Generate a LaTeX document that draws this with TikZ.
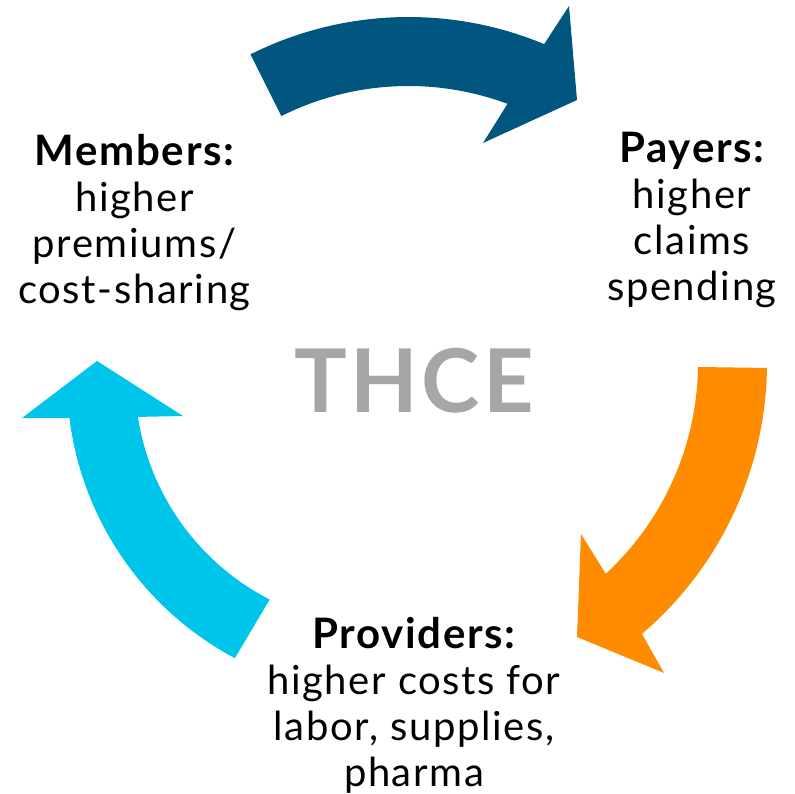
\documentclass[tikz,border=0pt]{standalone}
\usepackage{fontspec}
\setmainfont{Lato}[LetterSpace=4]
\usetikzlibrary{calc}
\definecolor{payblue}{HTML}{00567F}
\definecolor{provorange}{HTML}{FF8C00}
\definecolor{membcyan}{HTML}{00C5EA}
\definecolor{thcegray}{HTML}{A6A6A6}
\newcommand{\hd}[1]{{\fontsize{42}{46}\selectfont\bfseries #1}}

\begin{document}
\begin{tikzpicture}[x=1pt,y=1pt,
  lbl/.style={align=center, inner sep=0pt, anchor=north, font=\fontsize{40}{46}\selectfont}]
\useasboundingbox (0,0) rectangle (795,794);
% centres of the three curved arrows
\coordinate (ct) at (408.5,424);
\coordinate (co) at (411,431);
\coordinate (cc) at (383,415);

\fill[payblue] ($(ct)+(116.6:353)$) arc[start angle=116.6, end angle=67.4, radius=353]
  -- (569,788) -- (577,694) -- (483,651) -- ($(ct)+(69.6:284)$)
  arc[start angle=69.6, end angle=116.6, radius=284] -- cycle;
\fill[provorange] ($(co)+(-0.8:356)$) arc[start angle=-0.8, end angle=-49.55, radius=356]
  -- (664,121) -- (577,157) -- (581,260) -- ($(co)+(-47.27:287)$)
  arc[start angle=-47.27, end angle=-0.8, radius=287] -- cycle;
\fill[membcyan] ($(cc)+(242.05:316)$) arc[start angle=242.05, end angle=187.06, radius=316]
  -- (22,376) -- (97,433) -- (183,378) -- ($(cc)+(188.8:248)$)
  arc[start angle=188.8, end angle=242.8, radius=248] -- cycle;

\node[lbl] (members) at (134.5,660) {\hd{Members:}\\higher\\premiums/\\cost-sharing};
\node[lbl] (payers) at (692,662) {\hd{Payers:}\\higher\\claims\\spending};
\node[lbl] (providers) at (414,177) {\hd{Providers:}\\higher costs for\\labor, supplies,\\pharma};
\node[anchor=base, inner sep=0pt, text=thcegray, font=\fontsize{88}{90}\selectfont\bfseries] (thce) at (414,381) {THCE};
\end{tikzpicture}
\end{document}
